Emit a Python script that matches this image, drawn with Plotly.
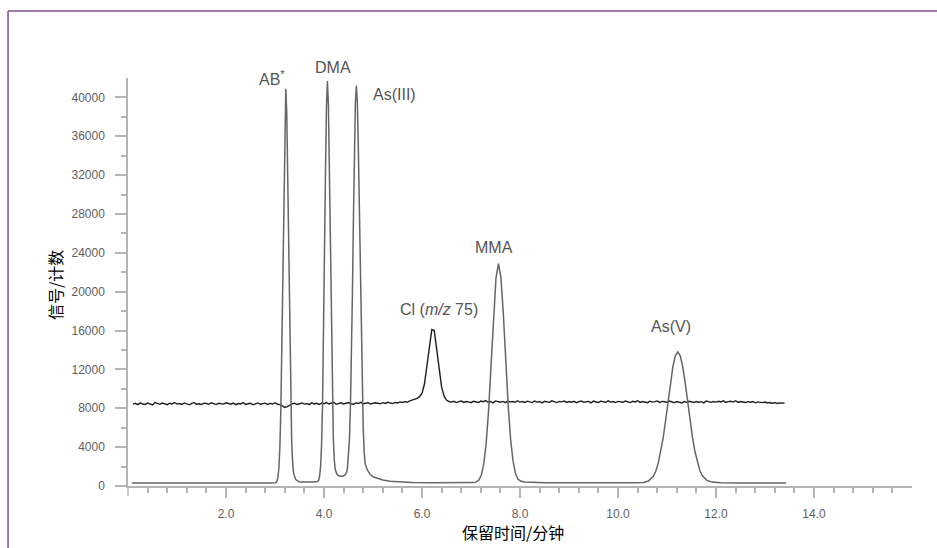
import numpy as np
import plotly.graph_objects as go

# Arsenic species chromatogram (m/z 75): retention time (min) and signal (counts)
as_time = [0.08, 0.5, 1.0, 1.5, 2.0, 2.5, 2.9, 3.0, 3.02, 3.04, 3.06, 3.08, 3.10, 3.12, 3.14,
           3.16, 3.18, 3.20, 3.22, 3.24, 3.26, 3.28, 3.30, 3.32, 3.34, 3.36, 3.38, 3.42, 3.47,
           3.52, 3.60, 3.70, 3.78, 3.84, 3.87, 3.89, 3.91, 3.93, 3.95, 3.97, 3.99, 4.01, 4.03,
           4.05, 4.07, 4.09, 4.11, 4.13, 4.15, 4.17, 4.19, 4.21, 4.23, 4.26, 4.30, 4.34, 4.38,
           4.42, 4.46, 4.48, 4.50, 4.52, 4.54, 4.56, 4.58, 4.60, 4.62, 4.64, 4.66, 4.68, 4.70,
           4.72, 4.74, 4.76, 4.78, 4.80, 4.82, 4.84, 4.88, 4.94, 5.00, 5.10, 5.20, 5.35, 5.55,
           5.8, 6.2, 6.6, 7.0, 7.06, 7.11, 7.16, 7.21, 7.26, 7.31, 7.36, 7.41, 7.46, 7.51, 7.56,
           7.61, 7.66, 7.71, 7.76, 7.81, 7.86, 7.91, 7.96, 8.02, 8.1, 8.5, 9.0, 9.5, 10.0, 10.3,
           10.52, 10.62, 10.72, 10.77, 10.82, 10.87, 10.92, 10.97, 11.02, 11.07, 11.12, 11.17,
           11.22, 11.27, 11.32, 11.37, 11.42, 11.47, 11.52, 11.57, 11.62, 11.67, 11.72, 11.82,
           11.92, 12.1, 12.5, 13.0, 13.43]
as_signal = [300, 290, 300, 300, 290, 300, 310, 330, 350, 490, 890, 1880, 4060, 8050, 14400,
             22700, 31500, 38300, 40900, 38400, 31900, 23500, 15300, 8900, 4700, 2400, 1300, 700, 480,
             420, 390, 400, 410, 420, 460, 600, 1000, 2010, 4220, 8290, 14730, 23200, 32120,
             39060, 41700, 39200, 32500, 23900, 15600, 9200, 5000, 2700, 1700, 1250, 1050, 1000, 1000,
             1100, 1400, 1900, 3000, 4900, 8300, 13200, 19800, 27300, 34300, 39400, 41200, 39600, 35000,
             28500, 21600, 15000, 9800, 6000, 3500, 2300, 1700, 1200, 950, 750, 620, 480, 400,
             360, 340, 330, 340, 350, 420, 610, 1110, 2240, 4390, 7870, 12500, 17480, 21410, 22900,
             21500, 17700, 12800, 8200, 4700, 2500, 1250, 700, 480, 400, 340, 320, 320, 330, 340,
             370, 510, 1000, 1510, 2300, 3420, 4890, 6690, 8660, 10610, 12280, 13400,
             13800, 13400, 12300, 10700, 8750, 6800, 5000, 3550, 2400, 1600, 1080, 560,
             400, 340, 320, 310, 300]

# Chloride interference trace (ArCl, m/z 75), acquired every 0.05 min from 0.10 to 13.40 min
cl_time = np.round(np.arange(0.10, 13.401, 0.05), 2)
cl_signal = [
    8420, 8510, 8380, 8560, 8440, 8390, 8530, 8470, 8350, 8590, 8460, 8410, 8540, 8480, 8370, 8520, 8450, 8600, 8430, 8490,
    8400, 8550, 8470, 8360, 8510, 8580, 8420, 8460, 8390, 8530, 8490, 8410, 8570, 8440, 8380, 8520, 8500, 8430, 8560, 8470,
    8420, 8540, 8380, 8490, 8450, 8590, 8400, 8470, 8520, 8360, 8480, 8550, 8410, 8460, 8530, 8390, 8500, 8440, 8570, 8420,
    8380, 8250, 8090, 8180, 8330, 8460, 8520, 8390, 8470, 8550, 8430, 8490, 8380, 8560, 8450, 8510, 8400, 8530, 8470, 8580,
    8440, 8500, 8620, 8410, 8490, 8560, 8450, 8530, 8600, 8470, 8420, 8550, 8490, 8610, 8460, 8520, 8580, 8440, 8510, 8570,
    8520, 8460, 8580, 8500, 8620, 8550, 8480, 8600, 8540, 8650, 8590, 8700, 8620, 8760, 8840, 8900, 9020, 9200, 9550, 10500,
    12350, 14550, 16100, 16000, 14150, 11950, 10200, 9250, 8850, 8700, 8640, 8720, 8590, 8680, 8750, 8610, 8700, 8660, 8580, 8720,
    8650, 8590, 8740, 8680, 8800, 8620, 8700, 8560, 8760, 8690, 8630, 8710, 8580, 8740, 8660, 8700, 8620, 8780, 8640, 8690,
    8600, 8730, 8670, 8590, 8750, 8640, 8700, 8560, 8720, 8680, 8610, 8770, 8650, 8590, 8710, 8660, 8740, 8600, 8690, 8630,
    8720, 8580, 8690, 8750, 8620, 8670, 8710, 8560, 8740, 8650, 8600, 8730, 8680, 8620, 8760, 8640, 8700, 8590, 8710, 8660,
    8620, 8740, 8680, 8590, 8720, 8650, 8780, 8610, 8700, 8660, 8580, 8730, 8640, 8690, 8760, 8600, 8710, 8670, 8620, 8750,
    8680, 8570, 8700, 8630, 8540, 8690, 8610, 8720, 8650, 8590, 8700, 8620, 8680, 8560, 8740, 8660, 8610, 8700, 8640, 8720,
    8650, 8760, 8600, 8690, 8720, 8640, 8780, 8610, 8700, 8650, 8590, 8680, 8620, 8700, 8560, 8660, 8610, 8580, 8640, 8550,
    8600, 8520, 8580, 8490, 8560, 8510, 8530,
]

# Peak labels: text and anchor position (min, counts)
peak_labels = ["AB<sup>*</sup>", "DMA", "As(III)", "Cl (<i>m/z</i> 75)", "MMA", "As(V)"]
label_x = [2.94, 4.19, 5.44, 6.34, 7.46, 11.08]
label_y = [43200, 44200, 41400, 18200, 24600, 16450]

x_major = [2, 4, 6, 8, 10, 12, 14]
x_major_text = ["2.0", "4.0", "6.0", "8.0", "10.0", "12.0", "14.0"]
x_minor = [v for v in np.round(np.arange(0.4, 15.61, 0.4), 1) if abs(v / 2 - round(v / 2)) > 1e-6]
y_major = list(range(0, 40001, 4000))
y_minor = list(range(2000, 38001, 4000))
Y_TOP = 42000

AXIS = "#b4b4b4"
LABEL_FONT = "Liberation Sans, Arial, sans-serif"
CJK_FONT = "Noto Sans CJK SC, sans-serif"

fig = go.Figure()
fig.add_trace(go.Scatter(x=cl_time, y=cl_signal, mode="lines",
                         line=dict(color="#1e1e1e", width=1.4), showlegend=False))
fig.add_trace(go.Scatter(x=as_time, y=as_signal, mode="lines",
                         line=dict(color="#666666", width=1.5), showlegend=False))

# Labels sit partly above the axis range, so place them vertically in plot-area fractions
for txt, lx, ly in zip(peak_labels, label_x, label_y):
    fig.add_annotation(x=lx, y=ly / Y_TOP, xref="x", yref="paper", text=txt, showarrow=False,
                       font=dict(family=LABEL_FONT, size=16, color="#555555"))

# Axis titles
fig.add_annotation(x=0.491, y=-0.1127, xref="paper", yref="paper", text="保留时间/分钟",
                   showarrow=False, xanchor="center", yanchor="middle",
                   font=dict(family=CJK_FONT, size=16, color="#000000"))
fig.add_annotation(x=-0.0931, y=0.4926, xref="paper", yref="paper", text="信号/计数",
                   showarrow=False, textangle=-90, xanchor="center", yanchor="middle",
                   font=dict(family=CJK_FONT, size=16, color="#000000"))

# The y-axis line runs a little below the x axis, like a long tick at the origin
fig.add_shape(type="line", xref="paper", yref="paper", x0=0, x1=0, y0=0, y1=-0.0245,
              line=dict(color=AXIS, width=1.5))

# Purple frame around the figure
FRAME = "#7d4f8f"
fig.add_shape(type="line", xref="paper", yref="paper", x0=-0.153, x1=1.2, y0=1.164, y1=1.164,
              line=dict(color=FRAME, width=1.5))
fig.add_shape(type="line", xref="paper", yref="paper", x0=-0.153, x1=-0.153, y0=-0.3, y1=1.164,
              line=dict(color=FRAME, width=1.5))

fig.update_layout(
    width=937, height=548, autosize=False,
    margin=dict(l=128, r=25, t=78, b=62),
    paper_bgcolor="white", plot_bgcolor="white",
    xaxis=dict(range=[0, 16], showline=True, linecolor=AXIS, linewidth=1.5,
               showgrid=False, zeroline=False, ticks="outside", ticklen=10,
               tickcolor=AXIS, tickwidth=1.5, tickmode="array",
               tickvals=x_major, ticktext=x_major_text, ticklabelstandoff=6,
               tickfont=dict(family=LABEL_FONT, size=12, color="#5e5e5e"),
               minor=dict(tickmode="array", tickvals=x_minor, ticks="outside",
                          ticklen=5, tickcolor=AXIS, tickwidth=1.5, showgrid=False)),
    yaxis=dict(range=[0, Y_TOP], showline=True, linecolor=AXIS, linewidth=1.5,
               showgrid=False, zeroline=False, ticks="outside", ticklen=11,
               tickcolor=AXIS, tickwidth=1.5, tickmode="array",
               tickvals=y_major, ticktext=[str(v) for v in y_major], ticklabelstandoff=8,
               tickfont=dict(family=LABEL_FONT, size=12, color="#5e5e5e"),
               minor=dict(tickmode="array", tickvals=y_minor, ticks="outside",
                          ticklen=5, tickcolor=AXIS, tickwidth=1.5, showgrid=False)),
)

fig.write_html("out.html")
